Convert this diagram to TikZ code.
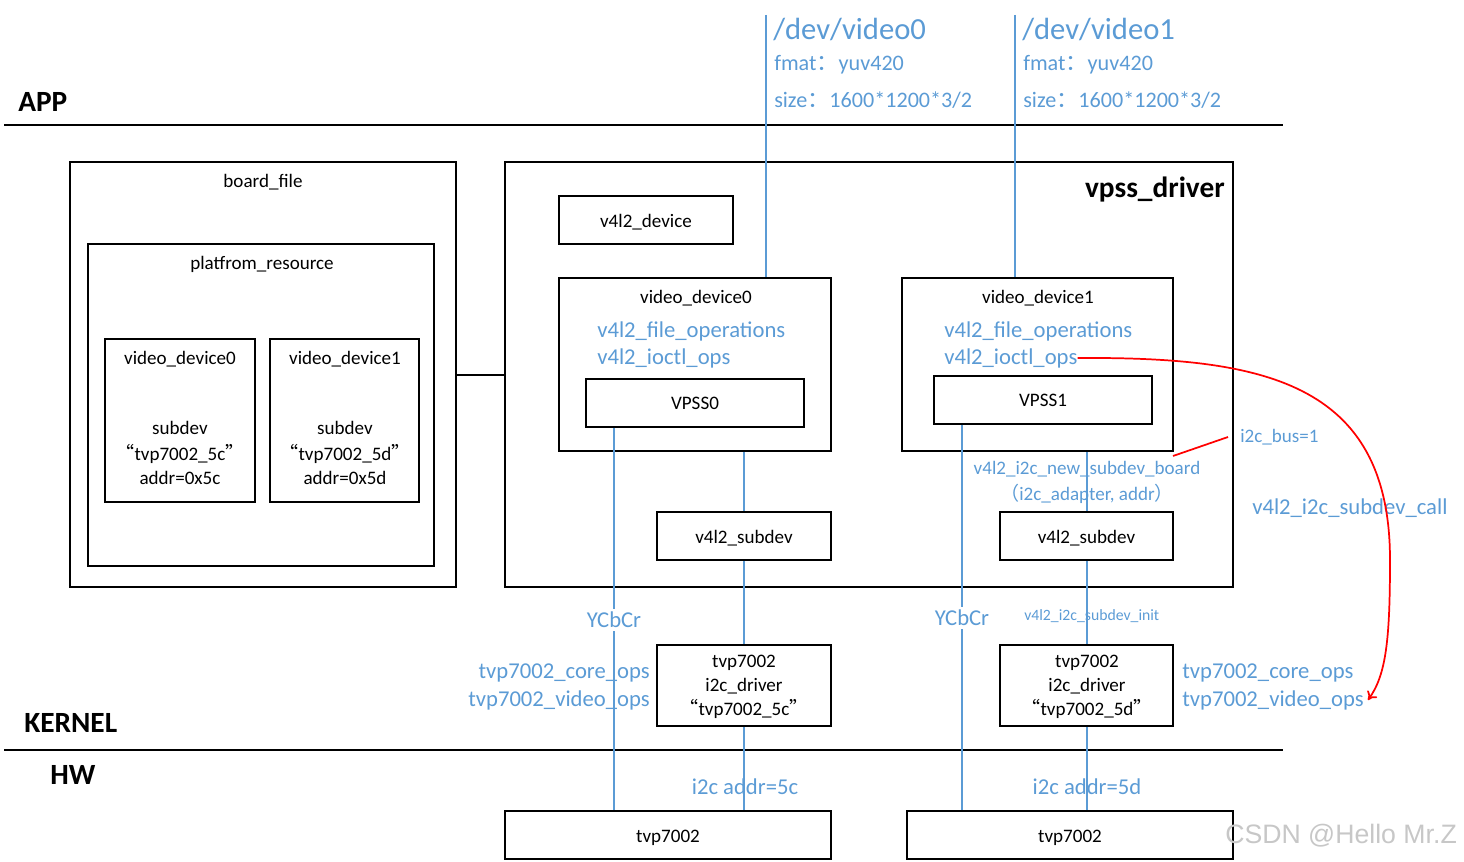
\documentclass[tikz,border=0pt]{standalone}
\usepackage{fontspec}
\setmainfont{Carlito}
\newfontfamily\cjk{Noto Sans CJK SC}
\newfontfamily\wm{Liberation Sans}
\usetikzlibrary{fit,arrows.meta}
\definecolor{bl}{RGB}{91,155,213}
\definecolor{rd}{RGB}{255,0,0}
\newcommand{\myLq}{{\cjk “}}
\newcommand{\myRq}{{\cjk ”}}
\begin{document}
\begin{tikzpicture}[x=0.75pt,y=-0.75pt,
  box/.style={draw,line width=1.4pt,inner sep=0pt},
  txt/.style={inner sep=0pt,font=\fontsize{14.3}{17}\selectfont,align=center},
  btxt/.style={inner sep=0pt,text=bl,font=\fontsize{17}{20}\selectfont},
  stxt/.style={inner sep=0pt,text=bl,font=\fontsize{14.3}{17}\selectfont},
  big/.style={inner sep=0pt,text=bl,font=\fontsize{23}{27}\selectfont},
  mid/.style={inner sep=0pt,text=bl,font=\fontsize{16.6}{19}\selectfont},
  layer/.style={inner sep=0pt,font=\fontsize{22}{26}\selectfont\bfseries},
  sepline/.style={line width=2.2pt},
  bline/.style={draw=bl,line width=1.5pt},
  ]
\useasboundingbox (0,0) rectangle (1464,862);

% layer separators
\coordinate (appL) at (4,125); \coordinate (appR) at (1283,125);
\coordinate (kerL) at (4,750); \coordinate (kerR) at (1283,750);
\draw[sepline] (appL) -- (appR);
\draw[sepline] (kerL) -- (kerR);
\node[layer,anchor=west] (app) at (18,102) {APP};
\node[layer,anchor=west] (kernel) at (24,723) {KERNEL};
\node[layer,anchor=west] (hw) at (50,775) {HW};

% board file
\node[box,fit={(70,162) (456,587)}] (board) {};
\node[txt] (boardlbl) at (263,182) {board\_file};
\node[box,fit={(88,244) (434,566)}] (plat) {};
\node[txt] (platlbl) at (262,264) {platfrom\_resource};
\node[box,fit={(105,339) (255,502)}] (bvd0) {};
\node[txt] (bvd0a) at (180,359) {video\_device0};
\node[txt] (bvd0b) at (180,453) {subdev\\[2pt]\myLq tvp7002\_5c\myRq\\[1pt]addr=0x5c};
\node[box,fit={(270,339) (419,502)}] (bvd1) {};
\node[txt] (bvd1a) at (345,359) {video\_device1};
\node[txt] (bvd1b) at (345,453) {subdev\\[2pt]\myLq tvp7002\_5d\myRq\\[1pt]addr=0x5d};

% vpss driver
\node[box,fit={(505,162) (1233,587)}] (vpss) {};
\node[layer,anchor=east] (vpsslbl) at (1225,190) {vpss\_driver};
\coordinate (lk) at (0,375);
\draw[line width=2pt] (lk -| board.east) -- (lk -| vpss.west);

\node[box,fit={(559,196) (733,244)}] (v4dev) {};
\node[txt] (v4devt) at ([yshift=-1.5pt]v4dev.center) {v4l2\_device};

\node[box,fit={(559,278) (831,451)}] (vd0) {};
\node[txt] (vd0lbl) at (696,298) {video\_device0};
\node[btxt,anchor=west] (fops0) at (597,331) {v4l2\_file\_operations};
\node[btxt,anchor=west] (ioctl0) at (597,358) {v4l2\_ioctl\_ops};
\node[box,fit={(586,379) (804,427)}] (vpss0) {};
\node[txt] (vpss0t) at (vpss0.center) {VPSS0};

\node[box,fit={(902,278) (1173,451)}] (vd1) {};
\node[txt] (vd1lbl) at (1038,298) {video\_device1};
\node[btxt,anchor=west] (fops1) at (944,331) {v4l2\_file\_operations};
\node[btxt,anchor=west] (ioctl1) at (944,358) {v4l2\_ioctl\_ops};
\node[box,fit={(934,376) (1152,424)}] (vpss1) {};
\node[txt] (vpss1t) at (vpss1.center) {VPSS1};

\node[box,fit={(657,512) (831,560)}] (sub0) {};
\node[txt] (sub0t) at ([yshift=-1.5pt]sub0.center) {v4l2\_subdev};
\node[box,fit={(1000,512) (1173,560)}] (sub1) {};
\node[txt] (sub1t) at ([yshift=-1.5pt]sub1.center) {v4l2\_subdev};

\node[box,fit={(657,645) (831,726)}] (drv0) {};
\node[txt] (drv0t) at (744,687) {tvp7002\\[1pt]i2c\_driver\\[1pt]\myLq tvp7002\_5c\myRq};
\node[box,fit={(1000,645) (1173,726)}] (drv1) {};
\node[txt] (drv1t) at (1087,687) {tvp7002\\[1pt]i2c\_driver\\[1pt]\myLq tvp7002\_5d\myRq};

\node[box,fit={(505,811) (831,859)}] (tvpA) {};
\node[txt] (tvpAt) at ([yshift=-2.5pt]tvpA.center) {tvp7002};
\node[box,fit={(907,811) (1233,859)}] (tvpB) {};
\node[txt] (tvpBt) at ([yshift=-2.5pt]tvpB.center) {tvp7002};

% /dev lines
\coordinate (d0top) at (766,15);
\coordinate (d1top) at (1015,15);
\draw[bline] (d0top) -- (d0top |- vd0.north);
\draw[bline] (d1top) -- (d1top |- vd1.north);
\node[big,anchor=west] (dev0) at (773,30) {/dev/video0};
\node[mid,anchor=west] (fmt0) at (774,65) {fmat{\cjk ：}yuv420};
\node[mid,anchor=west] (size0) at (774,100) {size{\cjk ：}1600*1200*3/2};
\node[big,anchor=west] (dev1) at (1022,30) {/dev/video1};
\node[mid,anchor=west] (fmt1) at (1023,65) {fmat{\cjk ：}yuv420};
\node[mid,anchor=west] (size1) at (1023,100) {size{\cjk ：}1600*1200*3/2};

% vertical blue lines
\coordinate (ya) at (614,0);
\coordinate (sa) at (744,0);
\coordinate (yb) at (962,0);
\coordinate (sb) at (1087,0);
\draw[bline] (ya |- vpss0.south) -- (ya |- tvpA.north);
\draw[bline] (yb |- vpss1.south) -- (yb |- tvpB.north);
\draw[bline] (sa |- vd0.south) -- (sa |- sub0.north);
\draw[bline] (sa |- sub0.south) -- (sa |- drv0.north);
\draw[bline] (sa |- drv0.south) -- (sa |- tvpA.north);
\draw[bline] (sb |- vd1.south) -- (sb |- sub1.north);
\draw[bline] (sb |- sub1.south) -- (sb |- drv1.north);
\draw[bline] (sb |- drv1.south) -- (sb |- tvpB.north);

\node[btxt,fill=white,inner sep=2pt] (ycc0) at (614,620) {YCbCr};
\node[btxt,fill=white,inner sep=2pt] (ycc1) at (962,618) {YCbCr};
\node[btxt] (addr0) at (745,787) {i2c addr=5c};
\node[btxt] (addr1) at (1087,787) {i2c addr=5d};
\node[btxt,anchor=east] (core0) at (650,673) {tvp7002\_core\_ops};
\node[btxt,anchor=east] (vops0) at (650,700) {tvp7002\_video\_ops};
\node[btxt,anchor=west] (core1) at (1182,673) {tvp7002\_core\_ops};
\node[btxt,anchor=west] (vops1) at (1182,700) {tvp7002\_video\_ops};
\node[stxt] (newsub) at (1087,469) {v4l2\_i2c\_new\_subdev\_board};
\node[stxt] (newsubb) at (1087,494) {{\cjk （}i2c\_adapter, addr{\cjk ）}};
\node[stxt,anchor=west,font=\fontsize{11.8}{14}\selectfont] (sinit) at (1024,616) {v4l2\_i2c\_subdev\_init};
\node[stxt,anchor=west] (bus) at (1240,437) {i2c\_bus=1};
\node[btxt,anchor=west] (call) at (1252,508) {v4l2\_i2c\_subdev\_call};

% red connectors
\coordinate (busend) at (1173,456);
\draw[rd,line width=1.3pt] (busend) -- ([xshift=-9pt]bus.west);
\draw[rd,line width=1.3pt,-{To[length=6pt,width=9pt]}] (ioctl1.east) .. controls (1260,357) and (1390,380) .. (1390,560) .. controls (1390,640) and (1386,675) .. ([xshift=3pt]vops1.east);

% watermark
\node[inner sep=0pt,anchor=west,text=black!22,font=\wm\fontsize{20}{24}\selectfont] (wmk) at (1225,836) {CSDN @Hello Mr.Z};
\end{tikzpicture}
\end{document}
